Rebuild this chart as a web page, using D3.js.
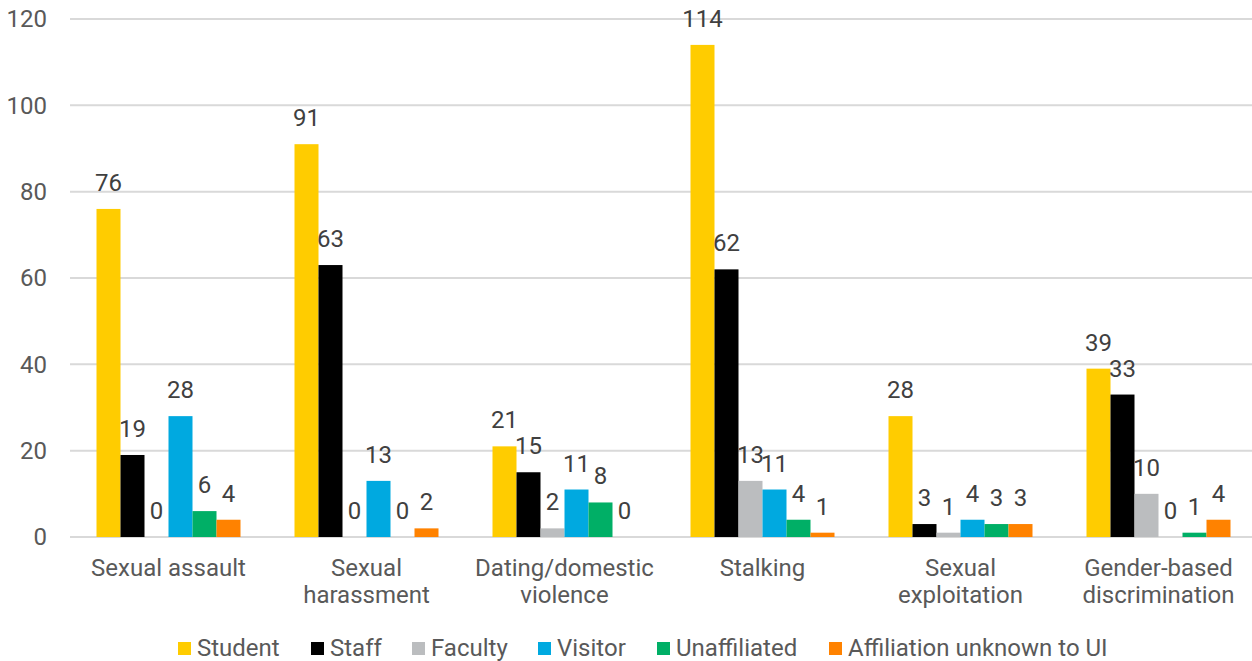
<!DOCTYPE html>
<html>
<head>
<meta charset="utf-8">
<script src="https://cdn.jsdelivr.net/npm/d3@7"></script>
<style>
  html, body { margin: 0; padding: 0; background: #ffffff; }
  svg { display: block; font-family: Roboto, "Noto Sans", sans-serif; }
</style>
</head>
<body>
<svg id="chart" width="1252" height="661"></svg>
<script>
// Reported incidents by type and affiliation
const categories = [
  ["Sexual assault"],
  ["Sexual", "harassment"],
  ["Dating/domestic", "violence"],
  ["Stalking"],
  ["Sexual", "exploitation"],
  ["Gender-based", "discrimination"]
];
const seriesNames = ["Student", "Staff", "Faculty", "Visitor", "Unaffiliated", "Affiliation unknown to UI"];
const student      = [76, 91, 21, 114, 28, 39];
const staff        = [19, 63, 15, 62, 3, 33];
const faculty      = [0, 0, 2, 13, 1, 10];
const visitor      = [28, 13, 11, 11, 4, 0];
const unaffiliated = [6, 0, 8, 4, 3, 1];
const unknown      = [4, 2, 0, 1, 3, 4];
const yTicks = [0, 20, 40, 60, 80, 100, 120];
const colors = ["#FFCC00", "#000000", "#BBBDBF", "#00A9E0", "#00AF66", "#FF8200"];

const seriesValues = [student, staff, faculty, visitor, unaffiliated, unknown];

const svg = d3.select("#chart");
const plotLeft = 69.5, plotRight = 1257.5, plotTop = 19, plotBottom = 537;
const fontSize = 24;

const y = d3.scaleLinear().domain([0, 120]).range([plotBottom, plotTop]);
const x0 = d3.scaleBand().domain(d3.range(categories.length)).range([plotLeft, plotRight]).paddingInner(0).paddingOuter(0);
const x1 = d3.scaleBand().domain(d3.range(seriesNames.length)).range([27, 27 + 24 * 6]);

// Gridlines
svg.append("g").selectAll("line").data(yTicks).join("line")
  .attr("x1", 70).attr("x2", 1252)
  .attr("y1", d => y(d)).attr("y2", d => y(d))
  .attr("stroke", "#D9D9D9").attr("stroke-width", 2);

// Y tick labels
svg.append("g").selectAll("text").data(yTicks).join("text")
  .attr("x", 47).attr("y", d => y(d))
  .attr("dy", "0.35em")
  .attr("text-anchor", "end")
  .attr("font-size", fontSize).attr("fill", "#595959")
  .text(d => d);

// Bars and value labels
const groups = svg.append("g").selectAll("g").data(categories).join("g")
  .attr("transform", (d, i) => `translate(${x0(i)},0)`);

groups.each(function (cat, ci) {
  const g = d3.select(this);
  const vals = seriesValues.map(s => s[ci]);
  g.selectAll("rect").data(vals).join("rect")
    .attr("x", (d, si) => x1(si))
    .attr("width", x1.bandwidth())
    .attr("y", d => y(d))
    .attr("height", d => y(0) - y(d))
    .attr("fill", (d, si) => colors[si]);
  g.selectAll("text").data(vals).join("text")
    .attr("x", (d, si) => x1(si) + x1.bandwidth() / 2)
    .attr("y", d => y(d) - 18)
    .attr("text-anchor", "middle")
    .attr("font-size", fontSize).attr("fill", "#404040")
    .text(d => d);
});

// Category labels
const catG = svg.append("g").selectAll("text").data(categories).join("text")
  .attr("x", (d, i) => x0(i) + x0.bandwidth() / 2)
  .attr("y", 576)
  .attr("text-anchor", "middle")
  .attr("font-size", fontSize).attr("fill", "#595959");
catG.selectAll("tspan").data(d => d).join("tspan")
  .attr("x", function () { return d3.select(this.parentNode).attr("x"); })
  .attr("dy", (d, i) => i === 0 ? 0 : 27)
  .text(d => d);

// Legend
const legendX = [178, 311, 412, 538, 657, 829];
const legend = svg.append("g").selectAll("g").data(seriesNames).join("g")
  .attr("transform", (d, i) => `translate(${legendX[i]},0)`);
legend.append("rect")
  .attr("x", 0).attr("y", 642).attr("width", 13).attr("height", 13)
  .attr("fill", (d, i) => colors[i]);
legend.append("text")
  .attr("x", 19).attr("y", 655.5)
  .attr("font-size", fontSize).attr("fill", "#595959")
  .text(d => d);
</script>
</body>
</html>
